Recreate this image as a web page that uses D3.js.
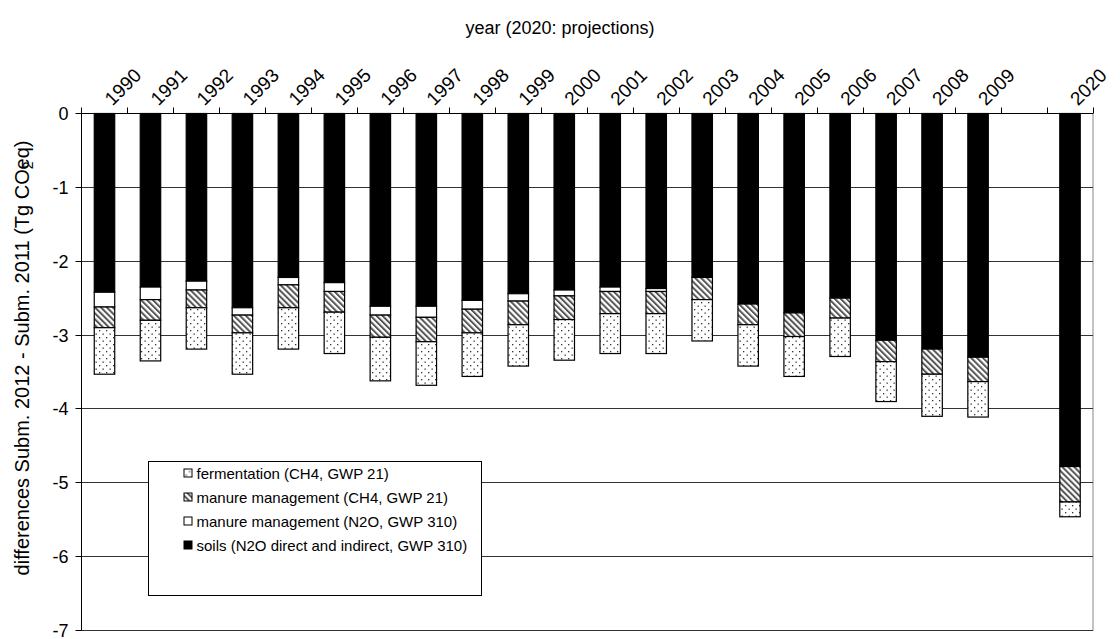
<!DOCTYPE html>
<html>
<head>
<meta charset="utf-8">
<script src="https://cdn.jsdelivr.net/npm/d3@7"></script>
<style>
  body { margin: 0; background: #fff; }
  svg { display: block; }
  text { font-family: "Liberation Sans", Arial, sans-serif; fill: #000; }
</style>
</head>
<body>
<svg id="chart" width="1120" height="639"></svg>
<script>
// Categories on the x axis; the empty entry leaves a blank slot before the projection year.
const categories = ["1990","1991","1992","1993","1994","1995","1996","1997","1998","1999",
                    "2000","2001","2002","2003","2004","2005","2006","2007","2008","2009","","2020"];

// Differences Subm. 2012 - Subm. 2011, Tg CO2 eq (null = no bar)
const soils        = [-2.42,-2.35,-2.27,-2.63,-2.22,-2.29,-2.61,-2.61,-2.53,-2.44,
                      -2.39,-2.35,-2.37,-2.22,-2.58,-2.70,-2.50,-3.07,-3.19,-3.30, null,-4.78];
const manureN2O    = [-0.20,-0.17,-0.12,-0.10,-0.10,-0.12,-0.12,-0.15,-0.12,-0.10,
                      -0.08,-0.06,-0.04, 0.00, 0.00, 0.00, 0.00, 0.00, 0.00, 0.00, null, 0.00];
const manureCH4    = [-0.28,-0.28,-0.24,-0.24,-0.31,-0.28,-0.30,-0.33,-0.32,-0.32,
                      -0.32,-0.30,-0.30,-0.30,-0.28,-0.32,-0.27,-0.29,-0.34,-0.33, null,-0.48];
const fermentation = [-0.63,-0.55,-0.56,-0.56,-0.56,-0.56,-0.59,-0.59,-0.59,-0.56,
                      -0.55,-0.54,-0.54,-0.56,-0.56,-0.54,-0.52,-0.54,-0.57,-0.48, null,-0.20];

const seriesKeys   = ["soils", "manureN2O", "manureCH4", "fermentation"];
const seriesLabels = {
  fermentation: "fermentation (CH4, GWP 21)",
  manureCH4:    "manure management (CH4, GWP 21)",
  manureN2O:    "manure management (N2O, GWP 310)",
  soils:        "soils (N2O direct and indirect, GWP 310)"
};
const legendOrder = ["fermentation", "manureCH4", "manureN2O", "soils"];
const yTicks = [0, -1, -2, -3, -4, -5, -6, -7];
const xTitle = "year (2020: projections)";

const svg = d3.select("#chart");
const plotLeft = 81.5, plotRight = 1093, plotTop = 113.5, plotBottom = 630.5;

// Fill patterns for the stacked components
const defs = svg.append("defs");
const dots = defs.append("pattern").attr("id", "pat-dots")
  .attr("patternUnits", "userSpaceOnUse").attr("width", 7).attr("height", 7);
dots.append("rect").attr("width", 7).attr("height", 7).attr("fill", "#fff");
dots.append("rect").attr("x", 1).attr("y", 1).attr("width", 1.3).attr("height", 1.3).attr("fill", "#333");
dots.append("rect").attr("x", 4.5).attr("y", 4.5).attr("width", 1.3).attr("height", 1.3).attr("fill", "#333");

const hatch = defs.append("pattern").attr("id", "pat-hatch")
  .attr("patternUnits", "userSpaceOnUse").attr("width", 4.2).attr("height", 4.2)
  .attr("patternTransform", "rotate(-45)");
hatch.append("rect").attr("width", 4.2).attr("height", 4.2).attr("fill", "#fff");
hatch.append("line").attr("x1", 1).attr("y1", 0).attr("x2", 1).attr("y2", 4.2)
  .attr("stroke", "#555").attr("stroke-width", 2);

const fills = {
  soils: "#000",
  manureN2O: "#fff",
  manureCH4: "url(#pat-hatch)",
  fermentation: "url(#pat-dots)"
};

const x = d3.scaleBand().domain(categories).range([plotLeft, plotRight])
  .paddingInner(0.555).paddingOuter(0.2775);
const y = d3.scaleLinear().domain([-7, 0]).range([plotBottom, plotTop]);
const crisp = v => Math.round(v - 0.5) + 0.5;

// Plot area frame and gridlines
svg.append("rect").attr("x", plotLeft).attr("y", plotTop)
  .attr("width", plotRight - plotLeft).attr("height", plotBottom - plotTop)
  .attr("fill", "none").attr("stroke", "#888").attr("stroke-width", 1);

svg.append("g").selectAll("line").data(yTicks.filter(t => t !== 0)).join("line")
  .attr("x1", plotLeft).attr("x2", plotRight)
  .attr("y1", d => crisp(y(d))).attr("y2", d => crisp(y(d)))
  .attr("stroke", "#333").attr("stroke-width", 1);

// Stacked bars
const rows = categories.map((c, i) => ({
  cat: c,
  soils: soils[i] ?? 0,
  manureN2O: manureN2O[i] ?? 0,
  manureCH4: manureCH4[i] ?? 0,
  fermentation: fermentation[i] ?? 0
}));
const stacked = d3.stack().keys(seriesKeys).offset(d3.stackOffsetDiverging)(rows);

svg.append("g").selectAll("g").data(stacked).join("g")
  .attr("fill", s => fills[s.key])
  .selectAll("rect").data(s => s.filter(d => d[0] !== d[1])).join("rect")
  .attr("x", d => x(d.data.cat))
  .attr("width", x.bandwidth())
  .attr("y", d => y(Math.max(d[0], d[1])))
  .attr("height", d => Math.abs(y(d[0]) - y(d[1])))
  .attr("stroke", "#000").attr("stroke-width", 1.2);

// Top category axis with boundary ticks and rotated labels
const step = x.step();
const x0 = x.range()[0];
const axisY = crisp(y(0));
svg.append("line").attr("x1", plotLeft).attr("x2", plotRight).attr("y1", axisY).attr("y2", axisY)
  .attr("stroke", "#000");
svg.append("g").selectAll("line").data(d3.range(categories.length + 1)).join("line")
  .attr("x1", i => crisp(x0 + i * step)).attr("x2", i => crisp(x0 + i * step))
  .attr("y1", axisY).attr("y2", axisY - 6).attr("stroke", "#000");

svg.append("g").selectAll("text").data(categories.filter(c => c !== "")).join("text")
  .attr("transform", c => `translate(${x(c) + x.bandwidth() / 2 + 8},${axisY - 7}) rotate(-45)`)
  .attr("font-size", 19)
  .text(c => c);

svg.append("text").attr("x", 560).attr("y", 34).attr("text-anchor", "middle")
  .attr("font-size", 18).text(xTitle);

// Value axis on the left
svg.append("line").attr("x1", crisp(plotLeft)).attr("x2", crisp(plotLeft))
  .attr("y1", plotTop).attr("y2", plotBottom).attr("stroke", "#000");
const yAxis = svg.append("g");
yAxis.selectAll("line").data(yTicks).join("line")
  .attr("x1", crisp(plotLeft) - 6).attr("x2", crisp(plotLeft))
  .attr("y1", d => crisp(y(d))).attr("y2", d => crisp(y(d))).attr("stroke", "#000");
yAxis.selectAll("text").data(yTicks).join("text")
  .attr("x", crisp(plotLeft) - 13).attr("y", d => y(d)).attr("dy", "0.36em")
  .attr("text-anchor", "end").attr("font-size", 18)
  .text(d => String(d));

const yTitle = svg.append("text")
  .attr("transform", `translate(29,358) rotate(-90)`)
  .attr("text-anchor", "middle").attr("font-size", 20);
yTitle.append("tspan").text("differences Subm. 2012 - Subm. 2011 (Tg CO");
yTitle.append("tspan").attr("font-size", 14).attr("dy", 4).text("2");
yTitle.append("tspan").attr("dx", -8).attr("dy", -4).text("eq)");

// Legend
const lg = svg.append("g").attr("transform", "translate(148.5,461.5)");
lg.append("rect").attr("width", 333).attr("height", 134)
  .attr("fill", "#fff").attr("stroke", "#000");
const items = lg.selectAll("g").data(legendOrder).join("g")
  .attr("transform", (k, i) => `translate(36,${12 + i * 24})`);
items.append("rect").attr("x", -0.5).attr("y", -4.5).attr("width", 8).attr("height", 8)
  .attr("fill", k => fills[k]).attr("stroke", "#000").attr("stroke-width", 1);
items.append("text").attr("x", 12).attr("y", 0).attr("dy", "0.36em")
  .attr("font-size", 15).text(k => seriesLabels[k]);
</script>
</body>
</html>
